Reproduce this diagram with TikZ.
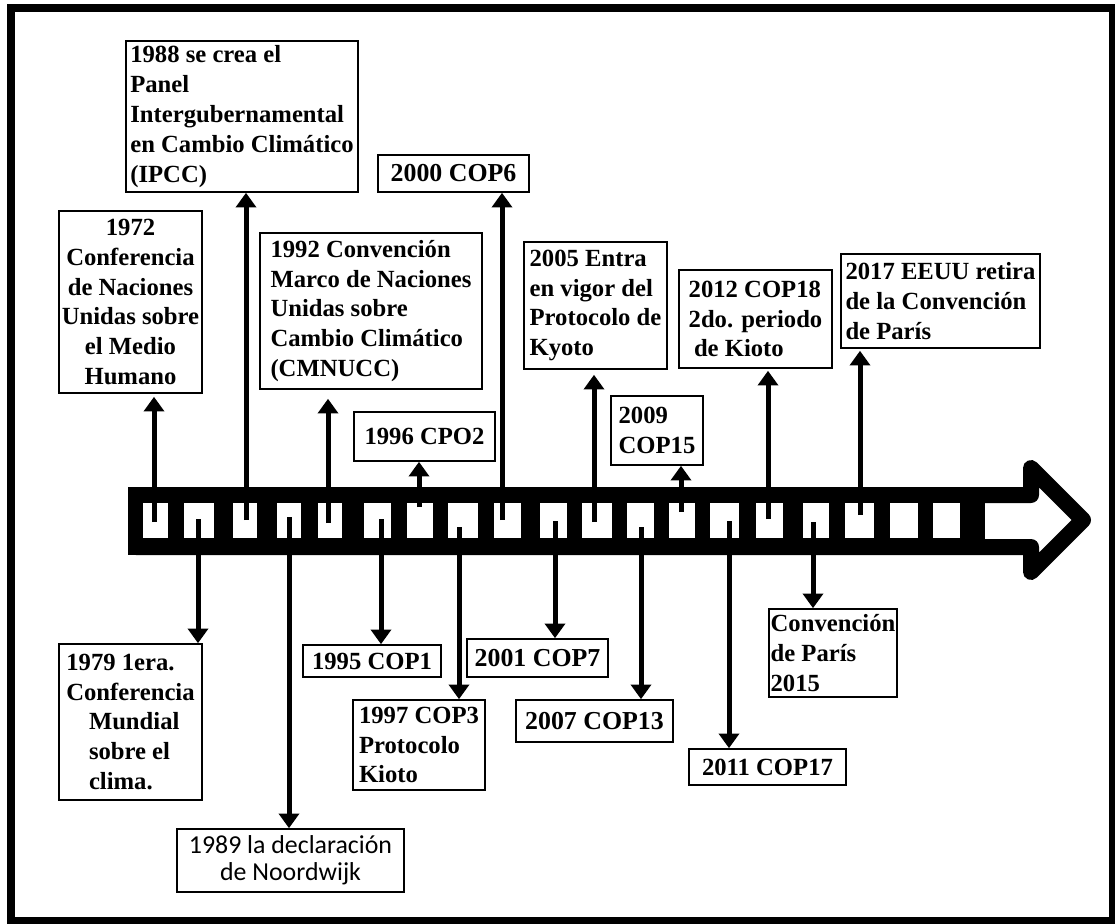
\documentclass[tikz,border=0pt]{standalone}
\usepackage{fontspec}
\setmainfont{Liberation Serif}
\newfontfamily\calibrifont{Carlito}
\usetikzlibrary{arrows.meta}
\newdimen\px \px=0.75pt
\newcommand\evfont{\bfseries\fontsize{18.5}{22.4}\selectfont}
\newcommand\evfontb{\bfseries\fontsize{19.4}{22.4}\selectfont}
\begin{document}
\begin{tikzpicture}[x=0.75pt,y=-0.75pt,
  ev/.style={draw, line width=1.2pt, inner sep=0pt, fill=white, font=\evfont, align=left},
  arr/.style={line width=3.75pt, -{Triangle[width=15pt,length=11pt]}},
  band/.style={line width=12pt, line join=round, draw=black, fill=white},
  hole/.style={fill=white}]
\useasboundingbox (0,0) rectangle (1115,924);
% frame
\draw[line width=6pt] (11,8) rectangle (1113,921);
% timeline arrow
\draw[band] (136,495) -- (1031,495) -- (1031,468) -- (1083,520) -- (1031,572) -- (1031,547) -- (136,547) -- cycle;
\fill[black] (128,487) rectangle (985,555);
\foreach \a/\b in {143/168,184/214,233/257,277/301,318/342,364/391,407/433,448/478,494/521,540/567,582/612,627/654,669/695,710/739,756/783,803/829,845/874,890/918,933/960}
  \fill[hole] (\a,503) rectangle (\b,538);
% boxes above
\node[ev, align=center, minimum width=143\px, minimum height=182\px] (b72) at (130.5,302)
  {1972\\Conferencia\\de Naciones\\Unidas sobre\\el Medio\\Humano};
\node[ev, minimum width=232\px, minimum height=151\px] (b88) at (242,116.5)
  {1988 se crea el\\Panel\\Intergubernamental\\en Cambio Climático\\(IPCC)};
\node[ev, minimum width=222\px, minimum height=156\px] (b92) at (371,311)
  {1992 Convención\\Marco de Naciones\\Unidas sobre\\Cambio Climático\\(CMNUCC)};
\node[ev, align=center, minimum width=141\px, minimum height=49\px] (b96) at (424.5,436.5) {1996 CPO2};
\node[ev, align=center, font=\evfontb, minimum width=151\px, minimum height=37\px] (b00) at (453.5,173.5) {2000 COP6};
\node[ev, minimum width=143\px, minimum height=127\px] (b05) at (595.5,305.5)
  {2005 Entra\\en vigor del\\Protocolo de\\Kyoto};
\node[ev, minimum width=92\px, minimum height=69\px] (b09) at (657,430.5) {2009\\COP15};
\node[ev, minimum width=153\px, minimum height=98\px] (b12) at (755.5,319)
  {2012 COP18\\2do. periodo\\\hspace*{4pt}de Kioto};
\node[ev, minimum width=199\px, minimum height=94\px] (b17) at (940.5,301)
  {2017 EEUU retira\\de la Convención\\de París};
% boxes below
\node[ev, minimum width=143\px, minimum height=156\px] (b79) at (130.5,722)
  {1979 1era.\\Conferencia\\\hspace*{17pt}Mundial\\\hspace*{17pt}sobre el\\\hspace*{17pt}clima.};
\node[ev, align=center, font=\calibrifont\fontsize{19.4}{20.4}\selectfont, minimum width=227\px, minimum height=63\px] (b89) at (290.5,860.5)
  {1989 la declaración\\de Noordwijk};
\node[ev, align=center, minimum width=138\px, minimum height=32\px] (b95) at (372,661) {1995 COP1};
\node[ev, minimum width=132\px, minimum height=90\px] (b97) at (419,745)
  {1997 COP3\\Protocolo\\Kioto};
\node[ev, align=center, font=\evfontb, minimum width=141\px, minimum height=38\px] (b01) at (537.5,658) {2001 COP7};
\node[ev, align=center, font=\evfontb, minimum width=157\px, minimum height=42\px] (b07) at (594.5,721) {2007 COP13};
\node[ev, align=center, minimum width=157\px, minimum height=36\px] (b11) at (767.5,767) {2011 COP17};
\node[ev, minimum width=128\px, minimum height=88\px] (b15) at (833,653)
  {Convención\\de París\\2015};
% arrow starts
\coordinate (p72) at (154,522);
\coordinate (p79) at (198,519);
\coordinate (p88) at (246,520);
\coordinate (p89) at (289,517);
\coordinate (p92) at (328,523);
\coordinate (p95) at (381,519);
\coordinate (p96) at (419,507);
\coordinate (p97) at (459,527);
\coordinate (p00) at (502,520);
\coordinate (p01) at (555,521);
\coordinate (p05) at (594,522);
\coordinate (p07) at (641,527);
\coordinate (p09) at (681,512);
\coordinate (p11) at (729,521);
\coordinate (p12) at (768,519);
\coordinate (p15) at (813,522);
\coordinate (p17) at (860,515);
% connectors
\draw[arr, shorten >=3\px] (p72) -- (p72 |- b72.south);
\draw[arr] (p79) -- (p79 |- b79.north);
\draw[arr] (p88) -- (p88 |- b88.south);
\draw[arr] (p89) -- (p89 |- b89.north);
\draw[arr, shorten >=9\px] (p92) -- (p92 |- b92.south);
\draw[arr] (p95) -- (p95 |- b95.north);
\draw[arr] (p96) -- (p96 |- b96.south);
\draw[arr] (p97) -- (p97 |- b97.north);
\draw[arr] (p00) -- (p00 |- b00.south);
\draw[arr] (p01) -- (p01 |- b01.north);
\draw[arr, shorten >=5\px] (p05) -- (p05 |- b05.south);
\draw[arr] (p07) -- (p07 |- b07.north);
\draw[arr] (p09) -- (p09 |- b09.south);
\draw[arr] (p11) -- (p11 |- b11.north);
\draw[arr, shorten >=2\px] (p12) -- (p12 |- b12.south);
\draw[arr] (p15) -- (p15 |- b15.north);
\draw[arr, shorten >=2\px] (p17) -- (p17 |- b17.south);
\end{tikzpicture}
\end{document}
